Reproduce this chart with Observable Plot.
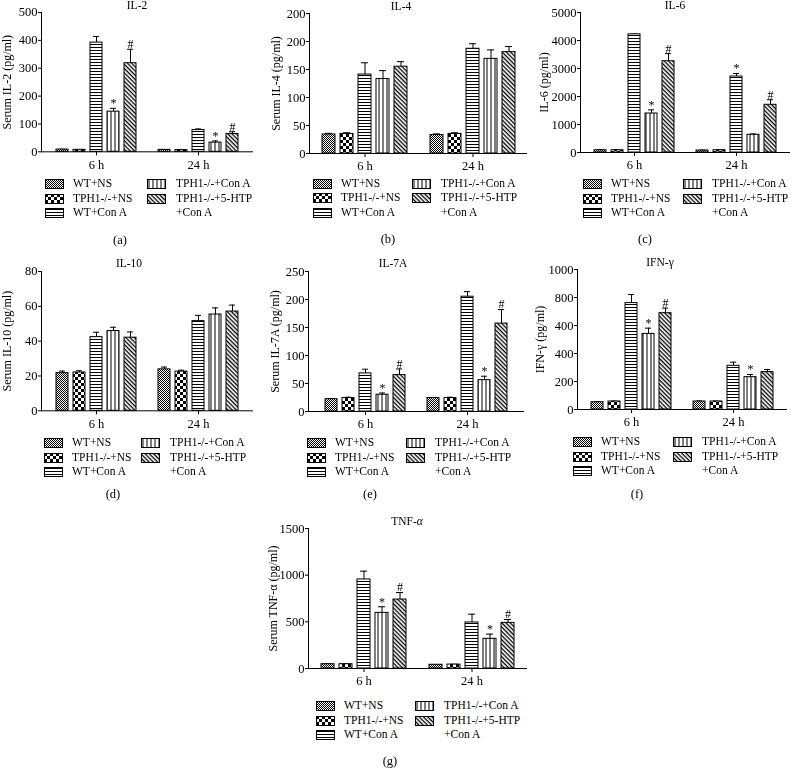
<!DOCTYPE html>
<html><head><meta charset="utf-8">
<script src="https://cdn.jsdelivr.net/npm/d3@7"></script>
<script src="https://cdn.jsdelivr.net/npm/@observablehq/plot@0.6"></script>
<style>
body{margin:0;background:#fff;font-family:"Liberation Serif",serif;color:#000;}
#page{position:relative;width:794px;height:780px;overflow:hidden;background:#fff;}
.t{position:absolute;white-space:nowrap;transform:translate(-50%,-50%);line-height:1;}
.lg{position:absolute;white-space:nowrap;font-size:11.5px;line-height:1;transform:translate(0,-50%);}
.sw{position:absolute;transform:translate(0,-50%);}
#page svg.plot{position:absolute;overflow:visible;will-change:transform;}
</style></head><body>
<svg width="0" height="0" style="position:absolute;left:0;top:0">
<defs>
<pattern id="pat0" width="2" height="2" patternUnits="userSpaceOnUse"><rect width="2" height="2" fill="#fff"/><rect width="1" height="1" fill="#000"/><rect x="1" y="1" width="1" height="1" fill="#000"/></pattern>
<pattern id="pat1" width="6" height="6" patternUnits="userSpaceOnUse"><rect width="6" height="6" fill="#fff"/><rect width="3" height="3" fill="#000"/><rect x="3" y="3" width="3" height="3" fill="#000"/></pattern>
<pattern id="pat2" width="4" height="3" patternUnits="userSpaceOnUse"><rect width="4" height="3" fill="#fff"/><rect y="1" width="4" height="1" fill="#000"/></pattern>
<pattern id="pat3" width="4" height="4" patternUnits="userSpaceOnUse"><rect width="4" height="4" fill="#fff"/><rect x="1.5" width="1" height="4" fill="#000"/></pattern>
<pattern id="pat4" width="3" height="3" patternUnits="userSpaceOnUse" patternTransform="rotate(45)"><rect width="3" height="3" fill="#fff"/><rect width="3" height="1.3" fill="#000"/></pattern>
</defs></svg>
<div id="page"></div>
<script>
// ---------- data ----------
const times = ["6 h", "24 h"];
const groups = ["WT+NS", "TPH1-/-+NS", "WT+Con A", "TPH1-/-+Con A", "TPH1-/-+5-HTP+Con A"];
const legendLabels = [["WT+NS"], ["TPH1-/-+NS"], ["WT+Con A"], ["TPH1-/-+Con A"], ["TPH1-/-+5-HTP", "+Con A"]];
// each array: 6 h (5 groups) then 24 h (5 groups)
const il2Mean = [8, 7, 392, 144, 318, 7, 6, 78, 33, 64];
const il2Sem  = [1, 1, 22, 12, 50, 1, 1, 4, 6, 8];
const il2Sig  = ["", "", "", "*", "#", "", "", "", "*", "#"];
const il2Ticks = [0, 100, 200, 300, 400, 500];
const il2TickLabels = ["0", "100", "200", "300", "400", "500"];

const il4Mean = [34, 35, 141, 133, 155, 33, 35, 187, 169, 181];
const il4Sem  = [2, 2, 21, 15, 9, 2, 2, 9, 16, 10];
const il4Sig  = ["", "", "", "", "", "", "", "", "", ""];
const il4Ticks = [0, 50, 100, 150, 200, 250];
const il4TickLabels = ["0", "50", "100", "150", "200", "200"];

const il6Mean = [80, 80, 4220, 1393, 3260, 70, 80, 2714, 632, 1704];
const il6Sem  = [15, 15, 10, 130, 270, 15, 15, 107, 30, 180];
const il6Sig  = ["", "", "", "*", "#", "", "", "*", "", "#"];
const il6Ticks = [0, 1000, 2000, 3000, 4000, 5000];
const il6TickLabels = ["0", "1000", "2000", "3000", "4000", "5000"];

const il10Mean = [21.6, 22, 42.3, 45.8, 42, 23.8, 22.5, 51.5, 55.3, 57];
const il10Sem  = [1.2, 1, 2.8, 2.2, 3.3, 1.3, 0.8, 3.3, 3.8, 3.7];
const il10Sig  = ["", "", "", "", "", "", "", "", "", ""];
const il10Ticks = [0, 20, 40, 60, 80];
const il10TickLabels = ["0", "20", "40", "60", "80"];

const il7Mean = [22, 24, 68, 30, 65, 24, 24, 205, 56, 157];
const il7Sem  = [1, 1.5, 7.5, 3, 11, 1, 1.5, 9, 7, 25];
const il7Sig  = ["", "", "", "*", "#", "", "", "", "*", "#"];
const il7Ticks = [0, 50, 100, 150, 200, 250];
const il7TickLabels = ["0", "50", "100", "150", "200", "250"];

const ifnMean = [52, 57, 760, 540, 688, 57, 57, 312, 231, 267];
const ifnSem  = [3, 3, 61, 41, 36, 4, 3, 26, 19, 19];
const ifnSig  = ["", "", "", "*", "#", "", "", "", "*", ""];
const ifnTicks = [0, 200, 400, 600, 800, 1000];
const ifnTickLabels = ["0", "200", "400", "400", "800", "1000"];

const tnfMean = [46, 46, 954, 596, 739, 40, 42, 493, 318, 489];
const tnfSem  = [3, 3, 89, 65, 75, 3, 3, 89, 50, 36];
const tnfSig  = ["", "", "", "*", "#", "", "", "", "*", "#"];
const tnfTicks = [0, 500, 1000, 1500];
const tnfTickLabels = ["0", "500", "1000", "1500"];

const titles = ["IL-2", "IL-4", "IL-6", "IL-10", "IL-7A", "IFN-γ", "TNF-<i>α</i>"];
const yLabels = ["Serum IL-2 (pg/ml)", "Serum IL-4 (pg/ml)", "IL-6 (pg/ml)", "Serum IL-10 (pg/ml)", "Serum IL-7A (pg/ml)", "IFN-γ (pg/ml)", "Serum TNF-α (pg/ml)"];
const tags = ["(a)", "(b)", "(c)", "(d)", "(e)", "(f)", "(g)"];

// ---------- layout ----------
const layouts = [
  {ax: 41, right: 253, top: 11.7, zero: 151, ydx: -34, tx: 137, ty: 6, lx0: 45, lx1: 147, ly: 184, gx: 120, gy: 240},
  {ax: 309, right: 527, top: 12.5, zero: 152.5, ydx: -33, tx: 401, ty: 6.5, lx0: 313, lx1: 412, ly: 183.5, gx: 388, gy: 238.5},
  {ax: 580, right: 790, top: 11.7, zero: 151.7, ydx: -36, tx: 675, ty: 6, lx0: 583, lx1: 683, ly: 184, gx: 645, gy: 239},
  {ax: 41, right: 253, top: 270.7, zero: 410, ydx: -34, tx: 129, ty: 264, lx0: 44, lx1: 141, ly: 443, gx: 113, gy: 494},
  {ax: 308, right: 524, top: 270.7, zero: 410.7, ydx: -33, tx: 393, ty: 264, lx0: 307, lx1: 406, ly: 443, gx: 370, gy: 494},
  {ax: 577, right: 787, top: 269, zero: 409, ydx: -37, tx: 660, ty: 263, lx0: 573, lx1: 673, ly: 442, gx: 637, gy: 494},
  {ax: 308, right: 527, top: 528, zero: 668, ydx: -35, tx: 407, ty: 522, lx0: 316, lx1: 415, ly: 706, gx: 390, gy: 761}
];

const panels = [
  {mean: il2Mean, sem: il2Sem, sig: il2Sig, ticks: il2Ticks, labels: il2TickLabels},
  {mean: il4Mean, sem: il4Sem, sig: il4Sig, ticks: il4Ticks, labels: il4TickLabels},
  {mean: il6Mean, sem: il6Sem, sig: il6Sig, ticks: il6Ticks, labels: il6TickLabels},
  {mean: il10Mean, sem: il10Sem, sig: il10Sig, ticks: il10Ticks, labels: il10TickLabels},
  {mean: il7Mean, sem: il7Sem, sig: il7Sig, ticks: il7Ticks, labels: il7TickLabels},
  {mean: ifnMean, sem: ifnSem, sig: ifnSig, ticks: ifnTicks, labels: ifnTickLabels},
  {mean: tnfMean, sem: tnfSem, sig: tnfSig, ticks: tnfTicks, labels: tnfTickLabels}
];

const page = document.getElementById("page");
const patUrls = groups.map((g, i) => `url(#pat${i})`);

function addText(html, x, y, size, cls = "t") {
  const d = document.createElement("div");
  d.className = cls;
  d.style.left = x + "px";
  d.style.top = y + "px";
  if (size) d.style.fontSize = size + "px";
  d.innerHTML = html;
  page.appendChild(d);
}

function addSwatch(i, x, y) {
  const ns = "http://www.w3.org/2000/svg";
  const s = document.createElementNS(ns, "svg");
  s.setAttribute("width", 19); s.setAttribute("height", 10);
  s.setAttribute("class", "sw");
  s.style.left = x + "px"; s.style.top = y + "px";
  const r = document.createElementNS(ns, "rect");
  r.setAttribute("x", 0.5); r.setAttribute("y", 0.5);
  r.setAttribute("width", 18); r.setAttribute("height", 9);
  r.setAttribute("fill", patUrls[i]); r.setAttribute("stroke", "#000");
  s.appendChild(r);
  page.appendChild(s);
}

function addLegend(L) {
  const rowH = 14.5;
  [0, 1, 2].forEach((g, r) => {
    addSwatch(g, L.lx0, L.ly + r * rowH);
    addText(legendLabels[g][0], L.lx0 + 28, L.ly + r * rowH, null, "lg");
  });
  [3, 4].forEach((g, r) => {
    addSwatch(g, L.lx1, L.ly + r * rowH);
    legendLabels[g].forEach((line, k) => addText(line, L.lx1 + 29, L.ly + (r + k) * rowH, null, "lg"));
  });
}

panels.forEach((p, pi) => {
  const L = layouts[pi];
  const rows = [];
  times.forEach((t, ti) => groups.forEach((g, gi) => {
    const i = ti * groups.length + gi;
    rows.push({key: t + "|" + g, group: g, mean: p.mean[i], top: p.mean[i] + p.sem[i], sig: p.sig[i]});
  }));
  const keys0 = groups.map(g => times[0] + "|" + g);
  const keys1 = groups.map(g => times[1] + "|" + g);
  const domain = [...keys0, "gap", ...keys1];
  const mL = 44, mR = 4, mT = 8, mB = 28;
  const width = (L.right - L.ax) + mL + mR;
  const height = (L.zero - L.top) + mT + mB;
  const svg = Plot.plot({
    width, height,
    marginLeft: mL, marginRight: mR, marginTop: mT, marginBottom: mB,
    style: {fontFamily: "Liberation Serif, serif", fontSize: "12.5px", color: "#000", background: "transparent", overflow: "visible"},
    x: {type: "band", domain, paddingInner: 0.29, paddingOuter: 0.68,
        ticks: [keys0[2], keys1[2]], tickFormat: d => d.split("|")[0],
        tickSize: 4, tickPadding: 4, label: null},
    y: {domain: [0, p.ticks[p.ticks.length - 1]], ticks: p.ticks,
        tickFormat: d => p.labels[p.ticks.indexOf(d)],
        tickSize: 3, tickPadding: 1, line: true, label: null},
    color: {type: "ordinal", domain: groups, range: patUrls},
    marks: [
      Plot.ruleX(rows, {x: "key", y1: "mean", y2: "top", stroke: "#000", strokeWidth: 1}),
      Plot.tickY(rows, {x: "key", y: "top", stroke: "#000", strokeWidth: 1, insetLeft: 3, insetRight: 3}),
      Plot.barY(rows, {x: "key", y: "mean", fill: "group", stroke: "#000", strokeWidth: 1}),
      Plot.text(rows.filter(r => r.sig), {x: "key", y: "top", text: "sig", dy: -5, fontSize: 12, fill: "#000"}),
      Plot.ruleY([0], {stroke: "#000", strokeWidth: 1}),
      Plot.text([yLabels[pi]], {frameAnchor: "left", text: d => d, rotate: -90, dx: L.ydx, textAnchor: "middle", fontSize: 12, fill: "#000"})
    ]
  });
  svg.classList.add("plot");
  svg.style.left = (L.ax - mL) + "px";
  svg.style.top = (L.top - mT) + "px";
  page.appendChild(svg);
  addText(titles[pi], L.tx, L.ty, 11.5);
  addLegend(L);
  addText(tags[pi], L.gx, L.gy, 12.5);
});
</script>
</body></html>
